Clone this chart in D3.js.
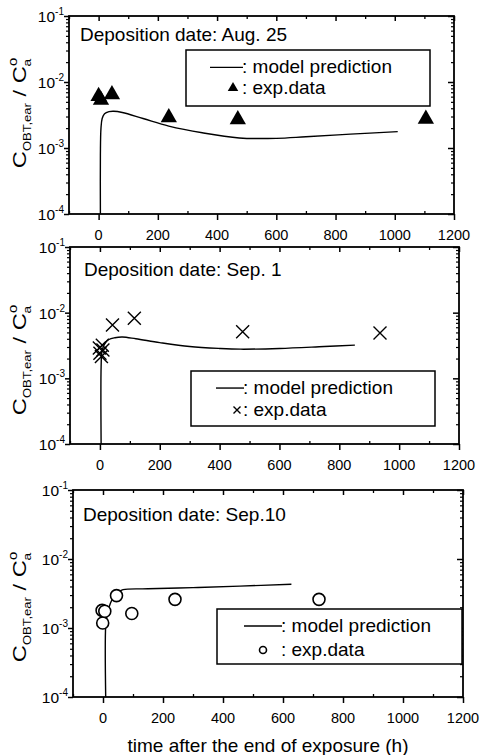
<!DOCTYPE html>
<html>
<head>
<meta charset="utf-8">
<script src="https://cdn.jsdelivr.net/npm/d3@7"></script>
<style>
  body { margin: 0; background: #fff; }
  text { font-family: "Liberation Sans", Arial, sans-serif; fill: #000; }
</style>
</head>
<body>
<script>
// Data: time (h) vs C_OBT,ear / C°a
var aug25Model = [[6,1e-4],[6,8e-4],[8,2e-3],[12,2.8e-3],[20,3.3e-3],[35,3.55e-3],[51,3.6e-3],[80,3.45e-3],
                  [150,2.8e-3],[237,2.15e-3],[350,1.7e-3],[475,1.42e-3],[600,1.4e-3],[700,1.48e-3],[850,1.62e-3],[1010,1.77e-3]];
var aug25Exp = [[0,6.3e-3],[8,5.5e-3],[45,6.7e-3],[237,3.0e-3],[470,2.8e-3],[1105,2.85e-3]];

var sep1Model = [[4,1e-4],[4,1.5e-3],[7,2.6e-3],[15,3.3e-3],[30,3.9e-3],[50,4.15e-3],[75,4.25e-3],[120,4.0e-3],
                 [200,3.5e-3],[300,3.05e-3],[400,2.85e-3],[470,2.78e-3],[600,2.85e-3],[750,3.05e-3],[852,3.2e-3]];
var sep1Exp = [[0,2.4e-3],[-2,2.9e-3],[5,2.15e-3],[8,3.2e-3],[10,2.7e-3],[42,6.5e-3],[115,8.2e-3],[477,5.1e-3],[936,4.9e-3]];

var sep10Model = [[9,1e-4],[9,1.07e-3],[14,1.6e-3],[25,2.3e-3],[35,2.8e-3],[50,3.3e-3],[67,3.6e-3],[150,3.7e-3],
                  [300,3.85e-3],[456,4.05e-3],[628,4.3e-3]];
var sep10Exp = [[-3,1.8e-3],[-1,1.18e-3],[6,1.75e-3],[45,2.95e-3],[96,1.62e-3],[240,2.6e-3],[720,2.6e-3]];

var xTicks = [0, 200, 400, 600, 800, 1000, 1200];
var xMinor = [-100, 100, 300, 500, 700, 900, 1100];
var yDecades = [-4, -3, -2, -1];
var titles = ["Deposition date: Aug. 25", "Deposition date: Sep. 1", "Deposition date: Sep.10"];
var xTitle = "time after the end of exposure (h)";

var svg = d3.select("body").append("svg")
    .attr("width", 480)
    .attr("height", 755);

// layout of the three stacked panels (the scan is not perfectly regular)
var panels = [
  {model: aug25Model, exp: aug25Exp, mark: "tri",
   x0: 69, x1: 454, y0: 16, y1: 214, tx: 80, ty: 41, labY: 240, ytc: 113,
   leg: {x: 186, y: 50, w: 244, h: 56, lx0: 210, lx1: 243, tx: 242, my: 88, mx: 233}},
  {model: sep1Model, exp: sep1Exp, mark: "cross",
   x0: 70, x1: 459, y0: 247, y1: 444, tx: 84, ty: 276, labY: 470, ytc: 360,
   leg: {x: 191, y: 371, w: 244, h: 55, lx0: 216, lx1: 244, tx: 243, my: 410, mx: 237}},
  {model: sep10Model, exp: sep10Exp, mark: "circle",
   x0: 73, x1: 463, y0: 490, y1: 697, tx: 83, ty: 521, labY: 723, ytc: 607,
   leg: {x: 217, y: 609, w: 245, h: 55, lx0: 244, lx1: 282, tx: 281, my: 650, mx: 263}}
];

function drawMark(g, type, cx, cy, big) {
  if (type == "tri") {
    g.append("path")
      .attr("d", d3.symbol().type(d3.symbolTriangle).size(big ? 115 : 48)())
      .attr("transform", "translate(" + cx + "," + (cy + (big ? 1 : 0)) + ")")
      .attr("fill", "#000");
  } else if (type == "cross") {
    var s = big ? 6.5 : 3.5;
    g.append("path")
      .attr("d", "M" + (cx - s) + "," + (cy - s) + "L" + (cx + s) + "," + (cy + s) +
                 "M" + (cx - s) + "," + (cy + s) + "L" + (cx + s) + "," + (cy - s))
      .attr("stroke", "#000").attr("stroke-width", 1.4).attr("fill", "none");
  } else {
    g.append("circle")
      .attr("cx", cx).attr("cy", cy).attr("r", big ? 6 : 3.5)
      .attr("stroke", "#000").attr("stroke-width", 1.6).attr("fill", "#fff");
  }
}

panels.forEach(function(p, i) {
  var x = d3.scaleLinear().domain([-100, 1200]).range([p.x0, p.x1]);
  var y = d3.scaleLog().domain([1e-4, 1e-1]).range([p.y1, p.y0]);
  var g = svg.append("g");

  // minor log ticks
  var yMinor = [];
  yDecades.slice(0, 3).forEach(function(d) {
    for (var k = 2; k <= 9; k++) yMinor.push(k * Math.pow(10, d));
  });
  var yMajor = yDecades.map(function(d) { return Math.pow(10, d); });

  function ticks(a, w) {
    a.select(".domain").remove();
    a.selectAll("line").attr("stroke-width", w);
  }

  // bottom axis: major ticks outward, minor inward
  g.append("g").attr("transform", "translate(0," + p.y1 + ")")
    .call(d3.axisBottom(x).tickValues(xTicks).tickSize(6).tickFormat(""))
    .call(ticks, 1.5);
  g.append("g").attr("transform", "translate(0," + p.y1 + ")")
    .call(d3.axisTop(x).tickValues(xMinor).tickSize(3).tickFormat(""))
    .call(ticks, 1.3);
  // top axis: ticks inward
  g.append("g").attr("transform", "translate(0," + p.y0 + ")")
    .call(d3.axisBottom(x).tickValues(xTicks).tickSize(5).tickFormat(""))
    .call(ticks, 1.5);
  g.append("g").attr("transform", "translate(0," + p.y0 + ")")
    .call(d3.axisBottom(x).tickValues(xMinor).tickSize(3).tickFormat(""))
    .call(ticks, 1.3);

  // left axis: ticks outward
  g.append("g").attr("transform", "translate(" + p.x0 + ",0)")
    .call(d3.axisLeft(y).tickValues(yMajor).tickSize(5).tickFormat(""))
    .call(ticks, 1.5);
  g.append("g").attr("transform", "translate(" + p.x0 + ",0)")
    .call(d3.axisLeft(y).tickValues(yMinor).tickSize(3).tickFormat(""))
    .call(ticks, 1.2);
  // right axis: ticks inward
  g.append("g").attr("transform", "translate(" + p.x1 + ",0)")
    .call(d3.axisLeft(y).tickValues(yMajor).tickSize(6).tickFormat(""))
    .call(ticks, 1.5);
  g.append("g").attr("transform", "translate(" + p.x1 + ",0)")
    .call(d3.axisLeft(y).tickValues(yMinor).tickSize(3).tickFormat(""))
    .call(ticks, 1.2);

  // frame
  g.append("rect")
    .attr("x", p.x0).attr("y", p.y0)
    .attr("width", p.x1 - p.x0).attr("height", p.y1 - p.y0)
    .attr("fill", "none").attr("stroke", "#000").attr("stroke-width", 1.8);

  // x tick labels
  g.selectAll("text.xl").data(xTicks).enter().append("text")
    .attr("class", "xl")
    .attr("x", function(d) { return x(d); })
    .attr("y", p.labY)
    .attr("text-anchor", "middle")
    .style("font-size", "14.5px")
    .text(function(d) { return d; });

  // y tick labels 10^n
  yDecades.forEach(function(d) {
    var t = g.append("text")
      .attr("x", p.x0 - 5)
      .attr("y", y(Math.pow(10, d)) + 6)
      .attr("text-anchor", "end")
      .style("font-size", "15.5px");
    t.append("tspan").text("10");
    t.append("tspan").attr("dy", -7).style("font-size", "10px").text(String(d));
  });

  // y title, stretched along its length like the scanned original
  var yt = g.append("text")
    .attr("transform", "translate(26," + p.ytc + ") rotate(-90) scale(1.25,1)")
    .attr("text-anchor", "middle")
    .style("font-size", "19px");
  yt.append("tspan").text("C");
  yt.append("tspan").attr("dy", 5).style("font-size", "10.5px").text("OBT,ear");
  yt.append("tspan").attr("dy", -5).text(" / C");
  yt.append("tspan").attr("dy", -9).style("font-size", "12px").text("o");
  yt.append("tspan").attr("dx", -7).attr("dy", 14).style("font-size", "11px").text("a");

  // panel title
  g.append("text")
    .attr("x", p.tx).attr("y", p.ty)
    .style("font-size", "19px")
    .text(titles[i]);

  // model line
  g.append("path")
    .datum(p.model)
    .attr("d", d3.line()
      .x(function(d) { return x(d[0]); })
      .y(function(d) { return y(d[1]); })
      .curve(d3.curveCatmullRom))
    .attr("fill", "none")
    .attr("stroke", "#000")
    .attr("stroke-width", 1.4);

  // experimental data
  p.exp.forEach(function(d) {
    drawMark(g, p.mark, x(d[0]), y(d[1]), true);
  });

  // legend
  var L = p.leg;
  g.append("rect")
    .attr("x", L.x).attr("y", L.y).attr("width", L.w).attr("height", L.h)
    .attr("fill", "#fff").attr("stroke", "#000").attr("stroke-width", 1.5);
  var ly1 = L.y + L.h * 0.31;
  g.append("line")
    .attr("x1", L.lx0).attr("x2", L.lx1).attr("y1", ly1).attr("y2", ly1)
    .attr("stroke", "#000").attr("stroke-width", 1.4);
  g.append("text")
    .attr("x", L.tx).attr("y", ly1 + 6)
    .style("font-size", "19px")
    .text(": model prediction");
  drawMark(g, p.mark, L.mx, L.my, false);
  g.append("text")
    .attr("x", L.tx).attr("y", L.my + 6)
    .style("font-size", "19px")
    .text(": exp.data");
});

// x axis title
svg.append("text")
  .attr("x", 268).attr("y", 752)
  .attr("text-anchor", "middle")
  .style("font-size", "19px")
  .text(xTitle);
</script>
</body>
</html>
